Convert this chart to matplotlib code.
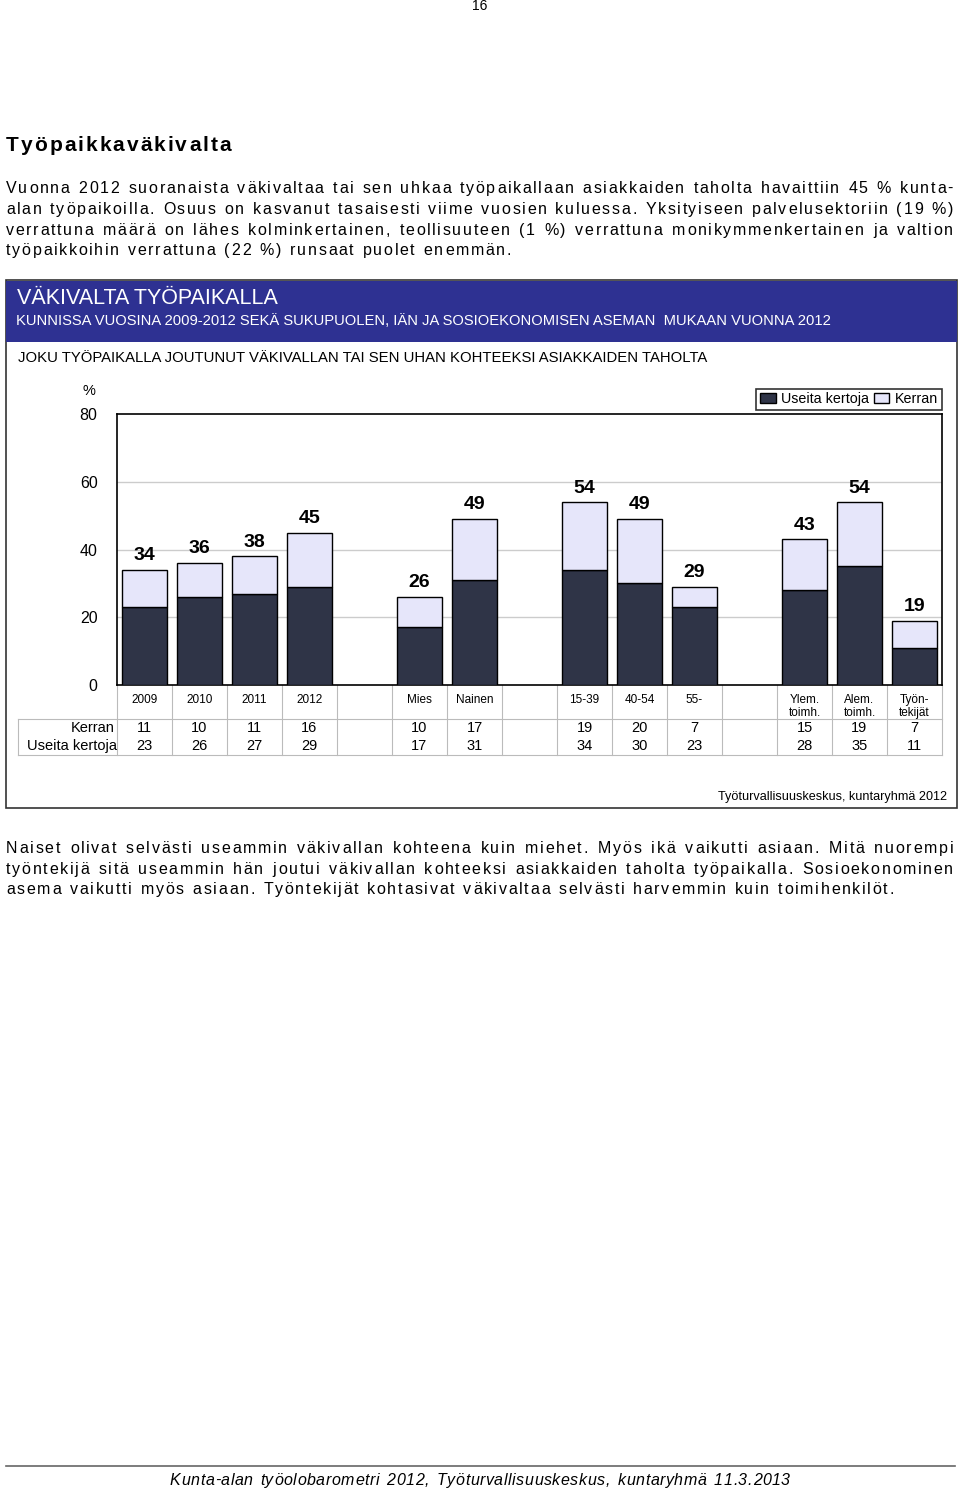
import matplotlib
matplotlib.use('Agg')
import matplotlib.pyplot as plt
import matplotlib.transforms as mtransforms
from matplotlib.patches import Rectangle, Patch
from matplotlib.font_manager import FontProperties, findfont, get_font

# chart data
groups = ['2009', '2010', '2011', '2012', '', 'Mies', 'Nainen', '',
          '15-39', '40-54', '55-', '', 'Ylem.\ntoimh.', 'Alem.\ntoimh.', 'Työn-\ntekijät']
kerran = [11, 10, 11, 16, None, 10, 17, None, 19, 20, 7, None, 15, 19, 7]
useita = [23, 26, 27, 29, None, 17, 31, None, 34, 30, 23, None, 28, 35, 11]
totals = [34, 36, 38, 45, None, 26, 49, None, 54, 49, 29, None, 43, 54, 19]

yticks = [0, 20, 40, 60, 80]

heading = 'Työpaikkaväkivalta'
para1 = ['Vuonna 2012 suoranaista väkivaltaa tai sen uhkaa työpaikallaan asiakkaiden taholta havaittiin 45 % kunta-',
         'alan työpaikoilla. Osuus on kasvanut tasaisesti viime vuosien kuluessa. Yksityiseen palvelusektoriin (19 %)',
         'verrattuna määrä on lähes kolminkertainen, teollisuuteen (1 %) verrattuna monikymmenkertainen ja valtion',
         'työpaikkoihin verrattuna (22 %) runsaat puolet enemmän.']
para2 = ['Naiset olivat selvästi useammin väkivallan kohteena kuin miehet. Myös ikä vaikutti asiaan. Mitä nuorempi',
         'työntekijä sitä useammin hän joutui väkivallan kohteeksi asiakkaiden taholta työpaikalla. Sosioekonominen',
         'asema vaikutti myös asiaan. Työntekijät kohtasivat väkivaltaa selvästi harvemmin kuin toimihenkilöt.']
footer = 'Kunta-alan työolobarometri 2012, Työturvallisuuskeskus, kuntaryhmä 11.3.2013'

DARK = '#2f3447'
LIGHT = '#e6e6fa'
BLUE = '#2e3192'

plt.rcParams['font.family'] = ['Liberation Sans', 'DejaVu Sans']

W, H = 960, 1489
DPI = 100
fig = plt.figure(figsize=(W / DPI, H / DPI), dpi=DPI)

# page axes in pixel coordinates
page = fig.add_axes([0, 0, 1, 1])
page.set_xlim(0, W)
page.set_ylim(H, 0)
page.axis('off')

_adv = {}


def adv(c, size, weight='normal', style='normal'):
    key = (c, size, weight, style)
    if key not in _adv:
        path = findfont(FontProperties(family='Liberation Sans', weight=weight, style=style))
        f = get_font(path)
        f.set_size(size, DPI)
        g = f.load_char(ord(c))
        _adv[key] = g.linearHoriAdvance / 65536
    return _adv[key]


def word_w(w, tr, size, **kw):
    return sum(adv(c, size, **kw) for c in w) + tr * (len(w) - 1)


def put_word(w, x, y, tr, size, **kw):
    for c in w:
        page.text(x, y, c, va='baseline', ha='left', fontsize=size, fontweight=kw.get('weight', 'normal'),
                  fontstyle=kw.get('style', 'normal'))
        x += adv(c, size, **kw) + tr
    return x


def put_line(text, y, x0, x1, justify, tr, size, gap=9.0, **kw):
    words = text.split(' ')
    widths = [word_w(w, tr, size, **kw) for w in words]
    if justify and len(words) > 1:
        gap = (x1 - x0 - sum(widths)) / (len(words) - 1)
    x = x0
    for w, ww in zip(words, widths):
        put_word(w, x, y, tr, size, **kw)
        x += ww + gap


page.text(480, 6, '16', ha='center', va='center', fontsize=10)
h_tr = (225 - sum(adv(c, 15, weight='bold') for c in heading)) / (len(heading) - 1)
put_word(heading, 6, 151, h_tr, 15, weight='bold')

for k, line in enumerate(para1):
    put_line(line, 193 + k * 20.8, 6, 953, k < len(para1) - 1, 1.7, 11.5)
for k, line in enumerate(para2):
    put_line(line, 853 + k * 20.6, 6, 953, k < len(para2) - 1, 1.7, 11.5)

# footer
page.plot([6, 955], [1466, 1466], color='#666666', lw=1.2)
put_line(footer, 1485, 170, 790, True, 0.6, 11.5, style='italic')

# chart frame and header
page.add_patch(Rectangle((6, 280), 951, 528, fill=False, ec='#333333', lw=1.2))
page.add_patch(Rectangle((6, 281), 951, 61, fc=BLUE, ec='none'))
page.text(17, 299, 'VÄKIVALTA TYÖPAIKALLA', color='white', fontsize=15.5, va='center')
page.text(16, 321, 'KUNNISSA VUOSINA 2009-2012 SEKÄ SUKUPUOLEN, IÄN JA SOSIOEKONOMISEN ASEMAN  MUKAAN VUONNA 2012',
          color='white', fontsize=10.65, va='center')
page.text(18, 358, 'JOKU TYÖPAIKALLA JOUTUNUT VÄKIVALLAN TAI SEN UHAN KOHTEEKSI ASIAKKAIDEN TAHOLTA',
          fontsize=10.7, va='center')
page.text(89, 391, '%', fontsize=10.5, ha='center', va='center')
page.text(947, 797, 'Työturvallisuuskeskus, kuntaryhmä 2012', fontsize=9.1, ha='right', va='center')

# bar chart axes
ax_l, ax_r, ax_t, ax_b = 117, 942, 414, 685
ax = fig.add_axes([ax_l / W, 1 - ax_b / H, (ax_r - ax_l) / W, (ax_b - ax_t) / H])
xs = [i for i, v in enumerate(useita) if v is not None]
u = [useita[i] for i in xs]
t = [totals[i] for i in xs]
ax.bar(xs, u, width=0.82, color=DARK, edgecolor='black', lw=1, zorder=3, label='Useita kertoja')
ax.bar(xs, [a - b for a, b in zip(t, u)], bottom=u, width=0.82, color=LIGHT, edgecolor='black', lw=1,
       zorder=3, label='Kerran')
for x, v in zip(xs, t):
    ax.annotate(str(v), (x, v), xytext=(0, 4), textcoords='offset points', ha='center', va='bottom',
                fontsize=14, fontweight='bold')
ax.set_xlim(-0.5, len(groups) - 0.5)
ax.set_ylim(0, 80)
ax.set_yticks(yticks)
ax.set_yticklabels([str(v) for v in yticks], fontsize=11.5)
ax.tick_params(axis='y', length=0, pad=14)
ax.set_xticks([])
for y in yticks[1:-1]:
    ax.axhline(y, color='#cccccc', lw=1, zorder=1)
for s in ax.spines.values():
    s.set_color('black')
    s.set_linewidth(1.2)

leg = ax.legend(handles=[Patch(fc=DARK, ec='black', label='Useita kertoja'),
                         Patch(fc=LIGHT, ec='black', label='Kerran')],
                loc='lower right', bbox_to_anchor=(1.0, 1.015), ncol=2, fontsize=10.3, frameon=True,
                fancybox=False, edgecolor='black', handlelength=1.1, handleheight=0.7, handletextpad=0.4,
                columnspacing=0.3, borderpad=0.25, borderaxespad=0)
leg.get_frame().set_linewidth(1.2)

# data table under the chart
tr = mtransforms.blended_transform_factory(ax.transData, page.transData)
for i, g in enumerate(groups):
    multi = '\n' in g
    page.text(i, 706.5 if multi else 700, g, transform=tr, ha='center', va='center', fontsize=8.5,
              linespacing=1.05)
    if kerran[i] is not None:
        page.text(i, 728, str(kerran[i]), transform=tr, ha='center', va='center', fontsize=10.5)
        page.text(i, 746, str(useita[i]), transform=tr, ha='center', va='center', fontsize=10.5)
for i in range(len(groups) + 1):
    page.plot([i - 0.5, i - 0.5], [685, 755], transform=tr, color='#bbbbbb', lw=0.8)
page.text(115, 728, 'Kerran', ha='right', va='center', fontsize=10.5)
page.text(117, 746, 'Useita kertoja', ha='right', va='center', fontsize=10.5)
page.plot([18, 942], [719, 719], color='#bbbbbb', lw=0.8)
page.plot([18, 942], [755, 755], color='#bbbbbb', lw=0.8)
page.plot([18, 18], [719, 755], color='#bbbbbb', lw=0.8)

fig.savefig('out.png', dpi=DPI)
